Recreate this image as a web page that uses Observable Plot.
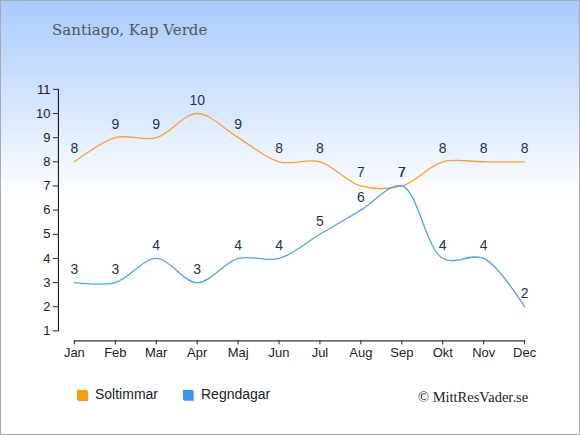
<!DOCTYPE html>
<html><head><meta charset="utf-8">
<script src="https://cdn.jsdelivr.net/npm/d3@7"></script>
<script src="https://cdn.jsdelivr.net/npm/@observablehq/plot@0.6"></script>
<style>
body{margin:0}
#chart{position:relative;width:580px;height:435px;box-sizing:border-box;border:1px solid #aaa;background:linear-gradient(#a9cafd 0%, #ffffff 46%, #ffffff 100%);overflow:hidden;font-family:"Liberation Sans",Arial,sans-serif}
#plot{position:absolute;left:-1px;top:-1px}
#title{position:absolute;left:51px;top:20px;font-family:"DejaVu Serif",Georgia,serif;font-size:15px;color:#555;white-space:nowrap}
.leg{position:absolute;top:385px;font-size:14px;color:#222;white-space:nowrap}
.sw{display:inline-block;width:10px;height:10px;margin-right:8px;vertical-align:-1px;box-shadow:1px 1px 1px #aaa}
#copy{position:absolute;left:417px;top:388px;font-family:"Liberation Serif","Times New Roman",serif;font-size:14.5px;color:#222;white-space:nowrap}
</style></head>
<body>
<div id="chart">
<div id="plot"></div>
<div id="title">Santiago, Kap Verde</div>
<div class="leg" style="left:76px"><span class="sw" style="background:#ff9a00"></span>Soltimmar</div>
<div class="leg" style="left:182px"><span class="sw" style="background:#3399ee"></span>Regndagar</div>
<div id="copy">© MittResVader.se</div>
</div>
<script>
const months = ["Jan","Feb","Mar","Apr","Maj","Jun","Jul","Aug","Sep","Okt","Nov","Dec"];
const soltimmar = [8,9,9,10,9,8,8,7,7,8,8,8];
const regndagar = [3,3,4,3,4,4,5,6,7,4,4,2];
const yTicks = [1,2,3,4,5,6,7,8,9,10,11];

const sol = months.map((m,i)=>({month:m, value:soltimmar[i]}));
const rain = months.map((m,i)=>({month:m, value:regndagar[i]}));

const chart = Plot.plot({
  width: 580, height: 435,
  marginLeft: 58, marginTop: 89, marginRight: 55, marginBottom: 94,
  style: {background: "transparent", fontFamily: "Liberation Sans, Arial, sans-serif", overflow: "visible"},
  x: {type: "point", domain: months, padding: 0, insetLeft: 16},
  y: {domain: [1, 11], insetBottom: 10},
  marks: [
    Plot.frame({anchor: "left", insetBottom: 10, stroke: "#000", strokeOpacity: 1}),
    Plot.frame({anchor: "bottom", insetLeft: 16, stroke: "#000", strokeOpacity: 1}),
    Plot.axisY({ticks: yTicks, tickFormat: d => String(d), tickSize: 5, tickPadding: 3, fontSize: 13, color: "#222", label: null}),
    Plot.axisX({tickSize: 4, tickPadding: 3, fontSize: 13, color: "#222", label: null, tickFormat: d => d}),
    Plot.line(sol, {x: "month", y: "value", stroke: "#ffa21f", strokeWidth: 1.3, curve: "catmull-rom"}),
    Plot.line(rain, {x: "month", y: "value", stroke: "#4aa3ef", strokeWidth: 1.3, curve: "catmull-rom"}),
    Plot.text(sol, {x: "month", y: "value", text: d => String(d.value), dy: -13, fontSize: 14, fill: "#223355"}),
    Plot.text(rain, {x: "month", y: "value", text: d => String(d.value), dy: -13, fontSize: 14, fill: "#223355"})
  ]
});
document.getElementById("plot").appendChild(chart);
</script>
</body></html>
